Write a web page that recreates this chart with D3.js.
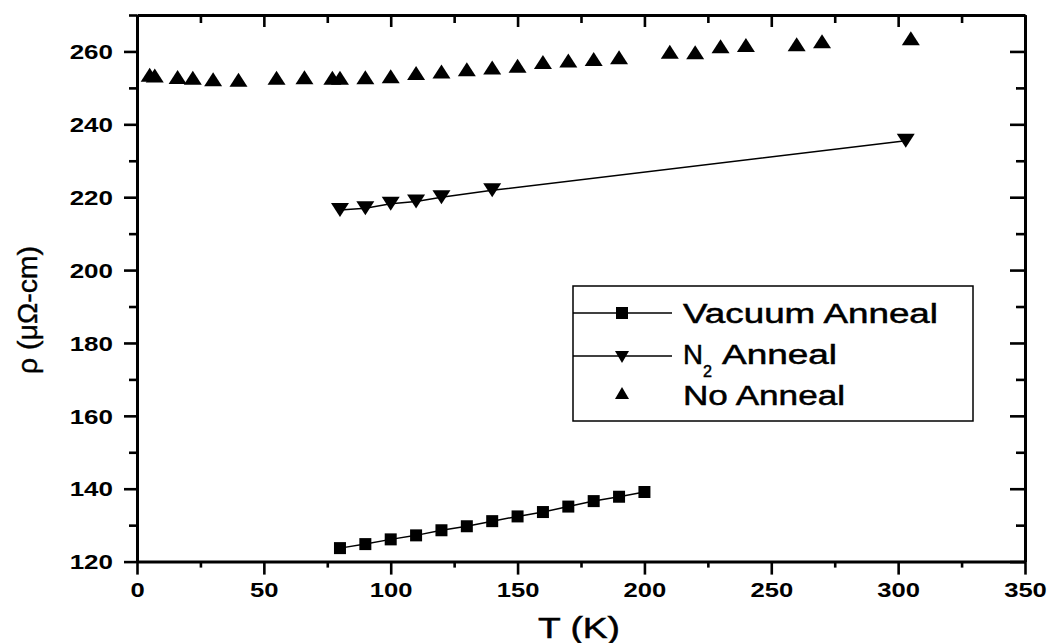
<!DOCTYPE html>
<html><head><meta charset="utf-8">
<script src="https://cdn.jsdelivr.net/npm/d3@7/dist/d3.min.js"></script>
<style>body{margin:0;background:#fff}svg{display:block}</style>
</head><body>
<svg id="c" width="1049" height="643"></svg>
<script>
// ---- data ----
const vacuumT = [80, 90, 100, 110, 120, 130, 140, 150, 160, 170, 180, 190, 200];
const vacuumR = [123.7, 124.8, 126.1, 127.2, 128.6, 129.7, 131.1, 132.4, 133.6, 135.1, 136.6, 137.8, 139.1];
const n2T = [80, 90, 100, 110, 120, 140, 303];
const n2R = [216.5, 217.0, 218.2, 218.8, 220.0, 221.9, 235.5];
const noT = [5, 7, 16, 22, 30, 40, 55, 66, 77, 80, 90, 100, 110, 120, 130, 140, 150, 160, 170, 180, 190, 210, 220, 230, 240, 260, 270, 305];
const noR = [253.6, 253.4, 253.0, 252.8, 252.4, 252.2, 252.8, 252.9, 252.8, 252.8, 252.9, 253.2, 254.1, 254.5, 255.1, 255.6, 256.1, 257.1, 257.5, 257.9, 258.4, 259.9, 259.8, 261.4, 261.8, 262.0, 262.8, 263.6];
const xTicks = [0, 50, 100, 150, 200, 250, 300, 350];
const yTicks = [120, 140, 160, 180, 200, 220, 240, 260];
const xMinor = [25, 75, 125, 175, 225, 275, 325];
const yMinor = [130, 150, 170, 190, 210, 230, 250, 270];
const seriesNames = ["Vacuum Anneal", "Anneal", "No Anneal"];
const xTitle = "T (K)";
const yTitle = "\u03C1 (\u03BC\u03A9-cm)";

// ---- layout ----
const L = 137, R = 1025, T = 15, B = 561.6;
const svg = d3.select("#c");
const x = d3.scaleLinear().domain([0, 350]).range([L, R]);
const y = d3.scaleLinear().domain([120, 270]).range([B, T]);
const FONT = "'Liberation Sans', Arial, sans-serif";

function stretch(sel, f) {
  sel.each(function(){ const w = this.getComputedTextLength(); d3.select(this).attr("textLength", w*f).attr("lengthAdjust","spacingAndGlyphs"); });
}

const major = 13, minorLen = 8;
function styleAxis(g){ g.select(".domain").attr("stroke","#000").attr("stroke-width",3); g.selectAll(".tick line").attr("stroke","#000").attr("stroke-width",2.6); }

const gB = svg.append("g").attr("transform",`translate(0,${B})`)
  .call(d3.axisBottom(x).tickValues(xTicks).tickSize(major).tickSizeOuter(0).tickPadding(8).tickFormat(d3.format("d")));
styleAxis(gB);
gB.selectAll("text").attr("font-family",FONT).attr("font-weight","bold").attr("font-size",20).attr("fill","#000").attr("y",null).attr("dy",null).attr("transform","translate(0,35)");
stretch(gB.selectAll("text"),1.28);
svg.append("g").attr("transform",`translate(0,${B})`).call(d3.axisBottom(x).tickValues(xMinor).tickSize(minorLen-2).tickFormat("")).call(styleAxis).select(".domain").remove();

const gL = svg.append("g").attr("transform",`translate(${L},0)`)
  .call(d3.axisLeft(y).tickValues(yTicks).tickSize(major).tickSizeOuter(0).tickFormat(d3.format("d")));
styleAxis(gL);
gL.selectAll("text").attr("font-family",FONT).attr("font-weight","bold").attr("font-size",20).attr("fill","#000").attr("x",-24).attr("dy","0.36em");
stretch(gL.selectAll("text"),1.3);
svg.append("g").attr("transform",`translate(${L},0)`).call(d3.axisLeft(y).tickValues(yMinor).tickSize(minorLen).tickFormat("")).call(styleAxis).select(".domain").remove();

const gT = svg.append("g").attr("transform",`translate(0,${T})`)
  .call(d3.axisBottom(x).tickValues(xTicks).tickSize(major-1).tickSizeOuter(0).tickFormat(""));
styleAxis(gT);
svg.append("g").attr("transform",`translate(0,${T})`).call(d3.axisBottom(x).tickValues(xMinor).tickSize(minorLen).tickFormat("")).call(styleAxis).select(".domain").remove();

const gR = svg.append("g").attr("transform",`translate(${R},0)`)
  .call(d3.axisLeft(y).tickValues(yTicks).tickSize(major+2).tickSizeOuter(0).tickFormat(""));
styleAxis(gR);
svg.append("g").attr("transform",`translate(${R},0)`).call(d3.axisLeft(y).tickValues(yMinor).tickSize(minorLen+1).tickFormat("")).call(styleAxis).select(".domain").remove();

// titles
svg.append("text").attr("x",(L+R)/2-2).attr("y",638).attr("text-anchor","middle")
  .attr("font-family",FONT).attr("font-size",29).attr("stroke","#000").attr("stroke-width",0.5)
  .attr("textLength",82).attr("lengthAdjust","spacingAndGlyphs").text(xTitle);
svg.append("text").attr("transform","translate(37,310) rotate(-90)").attr("text-anchor","middle")
  .attr("font-family",FONT).attr("font-size",28).attr("stroke","#000").attr("stroke-width",0.4)
  .attr("textLength",128).attr("lengthAdjust","spacingAndGlyphs").text(yTitle);

// markers
const triUp = (cx,cy,w,h)=>`M${cx-w/2},${cy+h/2}L${cx+w/2},${cy+h/2}L${cx},${cy-h/2}Z`;
const triDn = (cx,cy,w,h)=>`M${cx-w/2},${cy-h/2}L${cx+w/2},${cy-h/2}L${cx},${cy+h/2}Z`;

const vac = vacuumT.map((t,i)=>[t,vacuumR[i]]);
const n2 = n2T.map((t,i)=>[t,n2R[i]]);
const no = noT.map((t,i)=>[t,noR[i]]);
const line = d3.line().x(d=>x(d[0])).y(d=>y(d[1]));

svg.append("path").attr("d",line(vac)).attr("fill","none").attr("stroke","#000").attr("stroke-width",1.5);
svg.append("path").attr("d",line(n2)).attr("fill","none").attr("stroke","#000").attr("stroke-width",1.5);

svg.append("g").selectAll("rect").data(vac).join("rect")
  .attr("x",d=>x(d[0])-6).attr("y",d=>y(d[1])-6).attr("width",12).attr("height",12).attr("fill","#000");
svg.append("g").selectAll("path").data(n2).join("path").attr("d",d=>triDn(x(d[0]),y(d[1]),18,14)).attr("fill","#000");
svg.append("g").selectAll("path").data(no).join("path").attr("d",d=>triUp(x(d[0]),y(d[1]),18,14)).attr("fill","#000");

// legend
const lg = svg.append("g");
lg.append("rect").attr("x",573).attr("y",286).attr("width",400).attr("height",135).attr("fill","#fff").attr("stroke","#000").attr("stroke-width",1.5);
lg.append("line").attr("x1",573).attr("x2",672).attr("y1",313).attr("y2",313).attr("stroke","#000").attr("stroke-width",1.5);
lg.append("rect").attr("x",616).attr("y",307).attr("width",12).attr("height",12).attr("fill","#000");
lg.append("line").attr("x1",573).attr("x2",672).attr("y1",356).attr("y2",356).attr("stroke","#000").attr("stroke-width",1.5);
lg.append("path").attr("d",triDn(622,357,14,12)).attr("fill","#000");
lg.append("path").attr("d",triUp(622,393,14,12)).attr("fill","#000");
const lt = (tx,ty,s,len,fs)=>lg.append("text").attr("x",tx).attr("y",ty).attr("font-family",FONT).attr("font-size",fs||27)
  .attr("stroke","#000").attr("stroke-width",0.5)
  .attr("textLength",len).attr("lengthAdjust","spacingAndGlyphs").text(s);
lt(683,323,seriesNames[0],255);
lt(683,364,"N",20);
lt(703,377,"2",9,17);
lt(722,364,seriesNames[1],115);
lt(683,405,seriesNames[2],162);
</script>
</body></html>
